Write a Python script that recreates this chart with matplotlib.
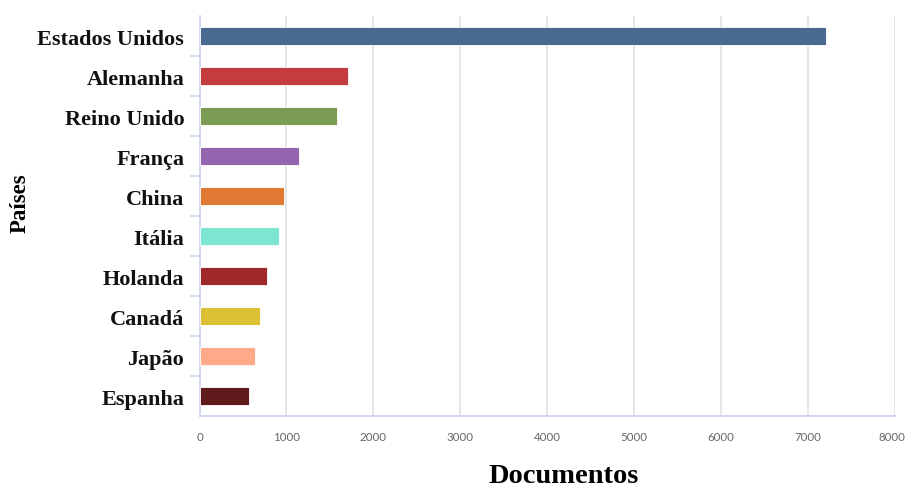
import matplotlib
matplotlib.use("Agg")
import matplotlib.pyplot as plt
import matplotlib.transforms as mtransforms
from matplotlib.ticker import FixedLocator

paises = ["Estados Unidos", "Alemanha", "Reino Unido", "França", "China",
          "Itália", "Holanda", "Canadá", "Japão", "Espanha"]
documentos = [7210, 1705, 1585, 1145, 970, 915, 780, 700, 635, 565]
cores = ["#4a6990", "#c33d3f", "#7b9c52", "#9566b0", "#e07a33",
         "#7de6d0", "#a02829", "#dcc035", "#ffa88a", "#5e1a1c"]
x_ticks = [0, 1000, 2000, 3000, 4000, 5000, 6000, 7000, 8000]

fig = plt.figure(figsize=(9.06, 4.89), dpi=100)
ax = fig.add_axes([0.2202, 0.1472, 0.9879 - 0.2202, 0.9652 - 0.1472])

y = list(range(len(paises)))
ax.barh(y, documentos, height=0.47, color=cores, edgecolor="white",
        linewidth=0.6, zorder=3)

ax.set_xlim(0, 8000)
ax.set_ylim(len(paises) - 0.5, -0.5)

ax.set_xticks(x_ticks)
ax.set_xticklabels([str(t) for t in x_ticks], fontsize=8.3, color="#666666",
                   family="Lato")
ax.tick_params(axis="x", length=0, pad=11)
ax.grid(axis="x", color="#e6e6e6", linewidth=1.4, zorder=0)

# keep the last x label inside the canvas
last = ax.get_xticklabels()[-1]
last.set_transform(last.get_transform() +
                   mtransforms.ScaledTranslation(-3 / 100, 0, fig.dpi_scale_trans))

ax.set_yticks(y)
ax.set_yticklabels(paises, fontsize=16, fontweight="bold",
                   family="Liberation Serif", color="#111111")
ax.tick_params(axis="y", which="major", length=0, pad=11)
ax.yaxis.set_minor_locator(FixedLocator([i + 0.5 for i in range(len(paises) - 1)]))
ax.tick_params(axis="y", which="minor", length=7, width=1.2, color="#ccd6eb")

for side in ["top", "right"]:
    ax.spines[side].set_visible(False)
for side in ["left", "bottom"]:
    ax.spines[side].set_color("#ccd6eb")
    ax.spines[side].set_linewidth(1.3)

fig.text(564 / 906, 1 - 477 / 489, "Documentos", ha="center", va="center",
         fontsize=20.5, fontweight="bold", family="Liberation Serif")
fig.text(20 / 906, 1 - 203 / 489, "Países", ha="center", va="center",
         rotation=90, fontsize=16.5, fontweight="bold", family="Liberation Serif")

fig.savefig("out.png", dpi=100)
